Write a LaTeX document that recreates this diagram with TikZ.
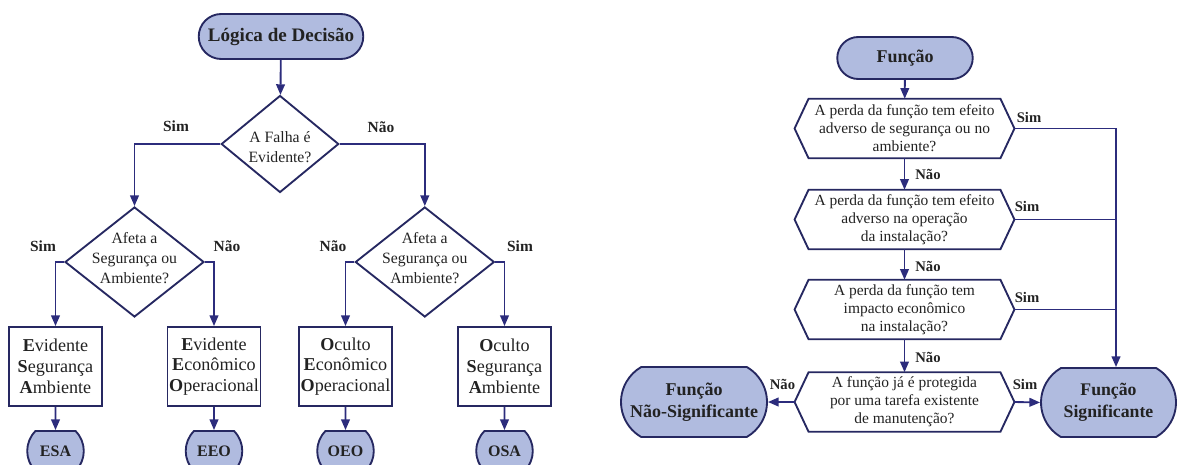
\documentclass[tikz,border=0pt]{standalone}
\usepackage{fontspec}
\setmainfont{Liberation Serif}
\usetikzlibrary{shapes.geometric,shapes.misc,arrows.meta}
\definecolor{termfill}{HTML}{B0BBDF}
\definecolor{edgeblue}{HTML}{262861}
\definecolor{linkblue}{HTML}{2C2C7C}
\definecolor{ink}{HTML}{222222}

\begin{document}
\begin{tikzpicture}[x=0.75pt,y=-0.75pt,
  every node/.style={text=ink},
  term/.style={rounded rectangle, draw=edgeblue, fill=termfill, line width=1.4pt,
    inner sep=0pt, align=center},
  decision/.style={diamond, draw=edgeblue, line width=1.4pt, inner sep=0pt,
    minimum width=104.25pt, minimum height=82.5pt},
  qtext/.style={align=center, inner sep=0pt, font=\fontsize{11.8}{14.8}\selectfont},
  outcome/.style={draw=edgeblue, line width=1.4pt, minimum width=69.75pt,
    minimum height=59.25pt, align=center, inner sep=0pt,
    font=\fontsize{13.6}{15.6}\selectfont},
  bubble/.style={term, rounded rectangle arc length=90, minimum width=35.25pt,
    minimum height=30pt, font=\bfseries\fontsize{12}{14}\selectfont},
  hexq/.style={minimum width=164.5pt, minimum height=44.25pt, inner sep=0pt,
    align=center, font=\fontsize{11.6}{13.5}\selectfont},
  hexline/.style={draw=edgeblue, line width=1.4pt},
  link/.style={draw=linkblue, line width=1.4pt, -{Triangle[length=8pt,width=6.5pt]}},
  plain/.style={draw=linkblue, line width=1.4pt},
  answer/.style={inner sep=0pt, font=\bfseries\fontsize{11.6}{13}\selectfont},
  answerr/.style={inner sep=0pt, font=\bfseries\fontsize{11}{13}\selectfont},
]
\useasboundingbox (0,0) rectangle (1177,464);

% ---------------- Decision logic tree ----------------
\node[term, minimum width=123.4pt, minimum height=33.75pt,
      font=\bfseries\fontsize{14.3}{16}\selectfont] (logic) at (281,36.5) {Lógica de Decisão};

\node[decision, minimum width=88.1pt, minimum height=72.75pt] (d1) at (280,144) {};
\node[qtext] (d1t) at (280,147) {A Falha é\\Evidente?};

\node[decision] (d2) at (134.5,262) {};
\node[qtext] (d2t) at (134.5,258) {Afeta a\\Segurança ou\\Ambiente?};
\node[decision] (d3) at (424.8,262) {};
\node[qtext] (d3t) at (424.8,258) {Afeta a\\Segurança ou\\Ambiente?};

\node[outcome] (b1) at (55.5,366.5) {\textbf{E}vidente\\\textbf{S}egurança\\\textbf{A}mbiente};
\node[outcome] (b2) at (214,366.5) {\textbf{E}vidente\\\textbf{E}conômico\\\textbf{O}peracional};
\node[outcome] (b3) at (345.5,366.5) {\textbf{O}culto\\\textbf{E}conômico\\\textbf{O}peracional};
\node[outcome] (b4) at (504.5,366.5) {\textbf{O}culto\\\textbf{S}egurança\\\textbf{A}mbiente};

\node[bubble] (esa) at (55.5,451) {ESA};
\node[bubble] (eeo) at (214,451) {EEO};
\node[bubble] (oeo) at (345.5,451) {OEO};
\node[bubble] (osa) at (504.5,451) {OSA};

\draw[link] (logic) -- (d1);
\draw[link] (d1.west) -| (d2.north);
\draw[link] (d1.east) -| (d3.north);
\draw[link] (d2.west) -| (b1.north);
\draw[link] (d2.east) -| (b2.north);
\draw[link] (d3.west) -| (b3.north);
\draw[link] (d3.east) -| (b4.north);
\draw[link] (b1) -- (esa);
\draw[link] (b2) -- (eeo);
\draw[link] (b3) -- (oeo);
\draw[link] (b4) -- (osa);

\node[answer] (l1) at (176,126) {Sim};
\node[answer] (l2) at (381,127) {Não};
\node[answer] (l3) at (43,246) {Sim};
\node[answer] (l4) at (227,246) {Não};
\node[answer] (l5) at (333,246) {Não};
\node[answer] (l6) at (520,246) {Sim};

% ---------------- Function significance flow ----------------
\node[term, minimum width=101.6pt, minimum height=31.5pt,
      font=\bfseries\fontsize{13.5}{16}\selectfont] (fun) at (905,58) {Função};

\node[hexq] (h1) at (904.5,128.5) {A perda da função tem efeito\\adverso de segurança ou no\\ambiente?};
\node[hexq] (h2) at (904.5,219.5) {A perda da função tem efeito\\adverso na operação\\da instalação?};
\node[hexq] (h3) at (904.5,309.5) {A perda da função tem\\impacto econômico\\na instalação?};
\node[hexq] (h4) at (904.5,402) {A função já é protegida\\por uma tarefa existente\\de manutenção?};
\foreach \h in {h1,h2,h3,h4}
  \draw[hexline] (\h.west) -- ([xshift=10.5pt]\h.north west) -- ([xshift=-10.5pt]\h.north east)
    -- (\h.east) -- ([xshift=-10.5pt]\h.south east) -- ([xshift=10.5pt]\h.south west) -- cycle;

\node[term, rounded rectangle arc length=120, minimum width=101.25pt, minimum height=51.75pt,
      font=\bfseries\fontsize{13.3}{16.5}\selectfont] (sig) at (1108.5,402.5) {Função\\Significante};
\node[term, rounded rectangle arc length=120, minimum width=109.5pt, minimum height=52.5pt,
      font=\bfseries\fontsize{13.5}{16.5}\selectfont] (nsig) at (694,402) {Função\\Não-Significante};

\coordinate (bus) at (1116,128.5);

\draw[link] (fun) -- (h1);
\draw[link] (h1) -- (h2);
\draw[link] (h2) -- (h3);
\draw[link] (h3) -- (h4);
\draw[link] (h1.east) -- (bus) -- (bus |- sig.north);
\draw[plain] (h2.east) -- (h2.east -| bus);
\draw[plain] (h3.east) -- (h3.east -| bus);
\draw[link] (h4.east) -- (sig.west);
\draw[link] (h4.west) -- (nsig.east);

\node[answerr] (r1) at (1029,117) {Sim};
\node[answerr] (r2) at (1027,206) {Sim};
\node[answerr] (r3) at (1027,297) {Sim};
\node[answerr] (r4) at (1025,384) {Sim};
\node[answerr] (n1) at (928,174) {Não};
\node[answerr] (n2) at (928,266) {Não};
\node[answerr] (n3) at (928,357) {Não};
\node[answerr] (n4) at (782.5,384) {Não};
\end{tikzpicture}
\end{document}
